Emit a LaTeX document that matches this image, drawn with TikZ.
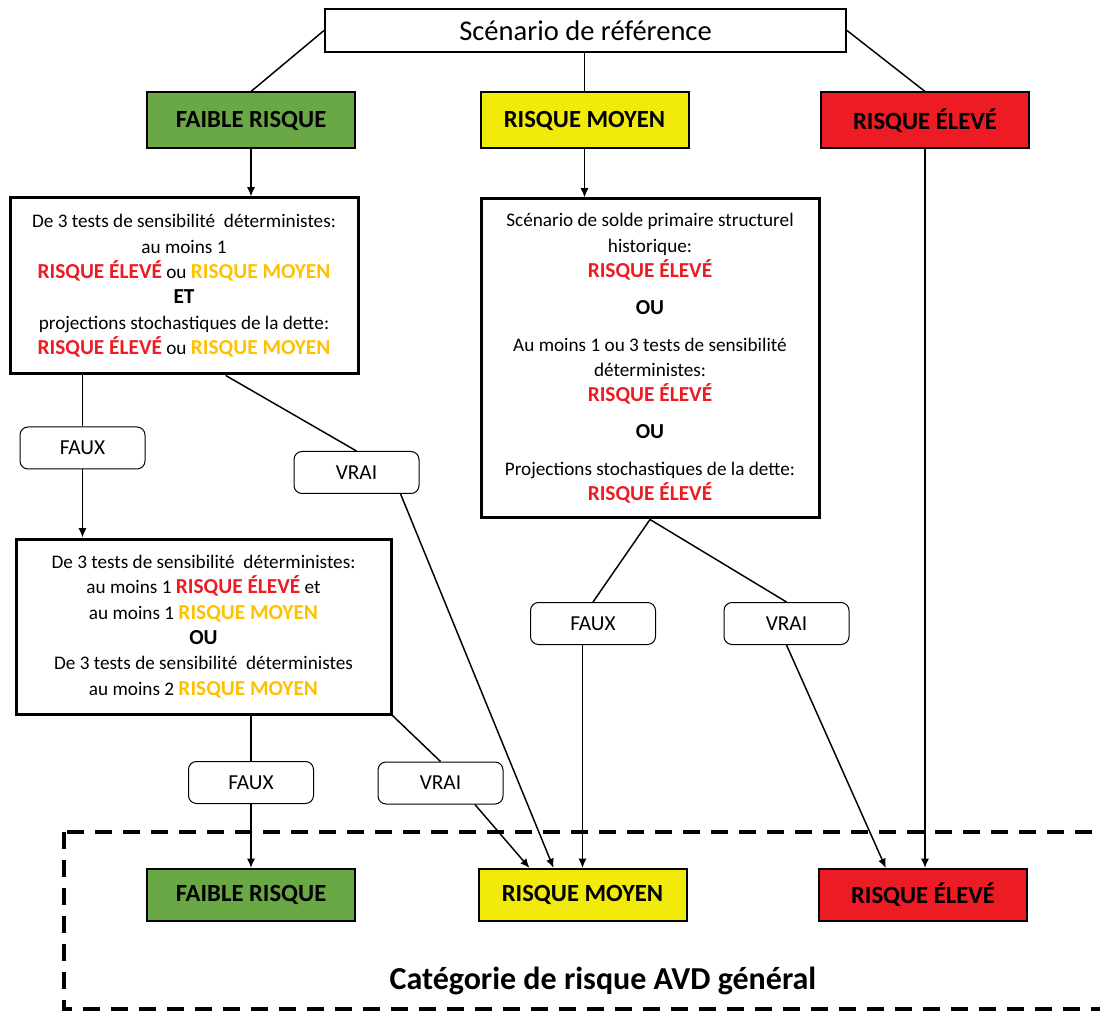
\documentclass[tikz,border=0pt]{standalone}
\usepackage{fontspec}
\setmainfont{Carlito}
\usepackage{tikz}
\usetikzlibrary{arrows.meta}

\definecolor{vert}{RGB}{106,168,69}
\definecolor{jaune}{RGB}{242,234,11}
\definecolor{rouge}{RGB}{237,28,36}
\definecolor{txtrouge}{RGB}{237,28,36}
\definecolor{txtorange}{RGB}{255,192,0}

\newcommand{\risqE}{{\fontsize{16}{19}\selectfont\bfseries\color{txtrouge}RISQUE ÉLEVÉ}}
\newcommand{\risqM}{{\fontsize{16}{19}\selectfont\bfseries\color{txtorange}RISQUE MOYEN}}
\newcommand{\gras}[1]{{\fontsize{16}{19}\selectfont\bfseries #1}}

\begin{document}
\begin{tikzpicture}[x=0.75pt,y=-0.75pt,
    lien/.style={line width=1.1pt},
    fleche/.style={line width=1.1pt,-{Latex[length=7pt,width=6pt]}},
    risque/.style={draw,line width=1.5pt,minimum width=156pt,minimum height=42pt,inner sep=0pt,font=\fontsize{18.5}{22}\selectfont\bfseries},
    critere/.style={draw,line width=2.25pt,inner sep=0pt,align=center,font=\fontsize{14.4}{19}\selectfont},
    reponse/.style={draw,rounded corners=6pt,line width=0.75pt,minimum width=93.75pt,minimum height=31.5pt,inner sep=0pt,font=\fontsize{16}{19}\selectfont}]
    \useasboundingbox (0,0) rectangle (1100,1012);
%    haut
    \node[draw,line width=1.5pt,minimum width=390.75pt,minimum height=32.25pt,inner sep=0pt,font=\fontsize{21.4}{24}\selectfont] (ref) at (585.5,30.5) {Scénario de référence};
    \node[risque,fill=vert] (faible) at (251,120.5) {FAIBLE RISQUE};
    \node[risque,fill=jaune] (moyen) at (584.5,120.5) {RISQUE MOYEN};
    \node[risque,fill=rouge] (eleve) at (925,120.5) {RISQUE ÉLEVÉ};
    \draw[lien] (ref.west)--(faible.north);
    \draw[lien] (moyen.north |- ref.south)--(moyen.north);
    \draw[lien] (ref.east)--(eleve.north);
%    criteres
    \node[critere,minimum width=261pt,minimum height=132pt] (test1) at (184,286)
      {De 3 tests de sensibilité~ déterministes:\\ au moins 1\\ \risqE{} ou \risqM\\ \gras{ET}\\ projections stochastiques de la dette:\\ \risqE{} ou \risqM};
    \node[critere,minimum width=253.5pt,minimum height=239.25pt] (test2) at (650,358.5)
      {Scénario de solde primaire structurel\\ historique:\\ \risqE\\[8.6pt] \gras{OU}\\[8.6pt] Au moins 1 ou 3 tests de sensibilité\\ déterministes:\\ \risqE\\[8.6pt] \gras{OU}\\[8.6pt] Projections stochastiques de la dette:\\ \risqE};
    \node[critere,minimum width=281.25pt,minimum height=131.25pt] (test3) at (203.5,626.5)
      {De 3 tests de sensibilité~ déterministes:\\ au moins 1 \risqE{} et\\ au moins 1 \risqM\\ \gras{OU}\\ De 3 tests de sensibilité~ déterministes\\ au moins 2 \risqM};
    \draw[fleche] (faible.south)--(faible.south |- test1.north);
    \draw[fleche] (moyen.south)--(moyen.south |- test2.north);
%    faux / vrai
    \node[reponse] (faux1) at (82.5,448) {FAUX};
    \node[reponse] (vrai1) at (356.5,472.5) {VRAI};
    \node[reponse] (faux2) at (251,782.5) {FAUX};
    \node[reponse] (vrai2) at (440.5,783) {VRAI};
    \node[reponse] (faux3) at (593,623.5) {FAUX};
    \node[reponse] (vrai3) at (786.5,623.5) {VRAI};
%    bas
    \node[risque,fill=vert,minimum height=39pt] (faibleB) at (251,895) {FAIBLE RISQUE};
    \node[risque,fill=jaune,minimum height=39pt] (moyenB) at (582.5,895) {RISQUE MOYEN};
    \node[risque,fill=rouge,minimum height=39pt] (eleveB) at (923,895) {RISQUE ÉLEVÉ};
    \draw[line width=3pt,dash pattern=on 12.75pt off 8.25pt] (64,832) rectangle (1115,1009);
    \node[anchor=base,font=\fontsize{24}{28}\selectfont\bfseries] (titre) at (603,989) {Catégorie de risque AVD général};
%    liens
    \draw[lien] (faux1.north |- test1.south)--(faux1.north);
    \draw[fleche] (faux1.south)--(faux1.south |- test3.north);
    \draw[lien] (test1.-65)--(vrai1.north);
    \draw[fleche] (vrai1.-26)--(moyenB.137);
    \draw[lien] (faux2.north |- test3.south)--(faux2.north);
    \draw[fleche] (faux2.south)--(faux2.south |- faibleB.north);
    \draw[lien] (test3.south east)--(vrai2.north);
    \draw[fleche] (vrai2.-32)--(moyenB.153);
    \draw[lien] (test2.south)--(faux3.north);
    \draw[lien] (test2.south)--(vrai3.north);
    \draw[fleche] (moyenB.north |- faux3.south)--(moyenB.north);
    \draw[fleche] (vrai3.south)--(eleveB.144);
    \draw[fleche] (eleve.south)--(eleve.south |- eleveB.north);
  \end{tikzpicture}
\end{document}
